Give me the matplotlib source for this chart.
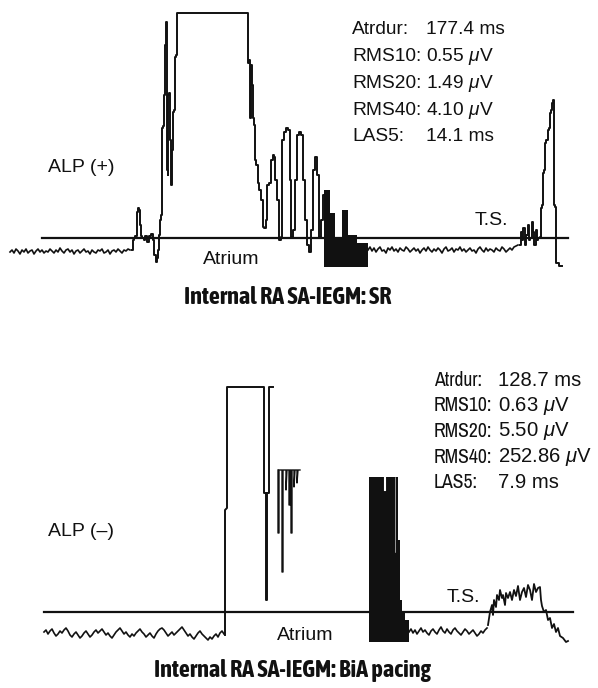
import numpy as np
import matplotlib
matplotlib.use("Agg")
import matplotlib.pyplot as plt
import matplotlib.font_manager as fm

# ---- data (amplitude relative to threshold line, time in sample units) ----
# panel 1 : SR
noise1_start = 10
noise1 = [-14, -12, -15, -11, -13, -16, -12, -14, -11, -15, -13, -12, -16, -13, -11,
          -14, -12, -15, -13, -14, -11, -13, -15, -12, -14, -10, -13, -15, -12, -11,
          -14, -12, -16, -13, -12, -15, -13, -11, -14, -13, -16, -12, -14, -15, -12,
          -13, -11, -15, -14, -12, -16, -13, -12, -14, -11, -13, -15, -12, -13, -11, -12]
wave1_t = [132, 133, 134, 136, 137, 138, 139, 140, 141, 143, 144, 146, 148, 150, 152,
           153, 155, 156, 157, 158, 159, 160, 161, 162, 163, 164, 165, 166, 167, 167.5,
           168, 168.5, 169, 170, 171, 172, 173, 174, 175, 176, 177, 248, 248, 249, 250,
           251, 252, 253, 254, 255, 257, 258, 260, 262, 263, 265, 266, 268, 270, 272,
           273, 274, 276, 278, 280, 281, 283, 285, 287, 289, 290, 292, 294, 296, 298,
           300, 302, 304, 306, 308, 310, 312, 314, 316, 318, 320, 322, 324]
wave1_a = [-12, -2, 0, 2, 26, 30, 28, 13, 2, 0, -2, 2, -4, 2, 4,
           -2, -17, -24, -20, -12, 3, 18, 23, 110, 112, 143, 193, 216, 198, 68,
           63, 143, 145, 98, 53, 88, 126, 128, 181, 183, 225, 225, 175, 178, 120,
           173, 153, 120, 113, 78, 73, 55, 48, 38, 11, 10, 18, 53, 55, 78,
           83, 81, 58, 38, -2, 1, 98, 106, 110, 108, 58, 1, 8, 58, 103,
           106, 103, 58, 18, -7, -14, 8, 68, 81, 63, 1, 18, 43]
las1_t = [324, 330, 335, 342, 348, 357, 368]
las1_top = [48, 25, 0, 28, 3, -5, -5]
las1_bottom = -29
noise2_start = 368
noise2 = [-12, -9, -13, -10, -14, -11, -9, -13, -12, -15, -10, -12, -9, -13, -11,
          -14, -10, -12, -13, -9, -11, -14, -12, -10, -13, -11, -15, -12, -10, -13,
          -9, -12, -14, -11, -13, -10, -12, -15, -11, -9, -13, -12, -10, -14, -11,
          -12, -9, -13, -11, -14, -12, -10, -13, -12, -15, -11, -9, -12, -14, -10,
          -13, -11, -12, -14, -10, -12, -13, -9, -11, -14, -12, -10, -12, -9, -8, -7]
end1_t = [520, 521, 522, 524, 525, 527, 528, 529, 531, 532, 533, 535, 536, 537, 539,
          540, 541, 543, 543.5, 545, 545.5, 547, 548, 549, 550, 551, 552, 553, 554,
          554.5, 556, 556.5, 558, 559, 562]
end1_a = [-7, 6, -2, 10, -7, 3, 13, -2, 0, 16, 6, -7, 8, -2, 0,
          1, 30, 33, 65, 68, 95, 98, 108, 110, 125, 128, 135, 138, 118,
          33, 31, -25, -25, -28, -28]

# panel 2 : BiA pacing
noise3_start = 44
noise3 = [-20, -18, -22, -19, -17, -21, -24, -22, -19, -21, -18, -16, -19, -23, -25,
          -22, -20, -23, -26, -24, -21, -19, -22, -25, -23, -20, -18, -21, -19, -17,
          -20, -23, -21, -24, -26, -23, -20, -18, -16, -19, -22, -20, -23, -25, -22,
          -24, -21, -19, -17, -20, -22, -25, -23, -21, -24, -26, -22, -19, -17, -16,
          -18, -21, -24, -22, -20, -23, -21, -19, -17, -15, -18, -21, -24, -22, -25,
          -27, -24, -21, -19, -22, -24, -26, -28, -25, -27, -24, -22, -25, -21, -19, -22]
pulse_t = [225, 225, 227, 227, 264, 264, 266, 266, 267, 267, 269, 269, 273]
pulse_a = [-23, 102, 104, 225, 225, 119, 119, 12, 12, 119, 119, 225, 225]
grp_t = [278, 278, 279, 279, 282, 282, 283, 283, 286, 286, 287, 289, 289, 290, 290,
         291, 291, 292, 292, 294, 294, 295, 297, 297, 298, 300]
grp_a = [142, 79, 79, 142, 142, 40, 40, 142, 142, 122, 142, 142, 107, 107, 142,
         142, 79, 79, 142, 142, 125, 142, 142, 129, 142, 142]
las2_t = [369, 396, 398, 400, 402, 405, 409]
las2_top = [135, 135, 72, 12, 0, -8, -18]
las2_bottom = -30
noise4_start = 409
noise4 = [-20, -17, -21, -18, -22, -19, -16, -20, -18, -21, -23, -19, -17, -20, -22,
          -18, -15, -19, -21, -17, -20, -22, -18, -16, -19, -21, -23, -20, -17, -19,
          -22, -20, -18, -21, -24, -22, -19, -21, -18, -16]
twave_t = [488, 490, 492, 493, 494, 496, 497, 499, 500, 502, 503, 505, 506, 508, 510,
           512, 514, 516, 518, 520, 522, 524, 526, 528, 530, 532, 534, 536, 538, 540,
           541, 542, 544, 546, 548, 550, 552, 554, 556, 558, 560, 563, 566, 568]
twave_a = [-13, 0, 7, -3, 12, 5, 17, 12, 22, 14, 17, 7, 19, 14, 20,
           12, 22, 16, 26, 12, 20, 24, 15, 27, 22, 12, 28, 20, 24, 25,
           12, 6, 0, 2, -8, -6, -16, -12, -20, -16, -24, -26, -30, -29]

stat_labels = ["Atrdur:", "RMS10:", "RMS20:", "RMS40:", "LAS5:"]
stats_sr = ["177.4 ms", r"0.55 $\mu$V", r"1.49 $\mu$V", r"4.10 $\mu$V", "14.1 ms"]
stats_bia = ["128.7 ms", r"0.63 $\mu$V", r"5.50 $\mu$V", r"252.86 $\mu$V", "7.9 ms"]

# ---- fonts ----
names = {f.name for f in fm.fontManager.ttflist}
reg = "Liberation Sans" if "Liberation Sans" in names else "DejaVu Sans"
narrow = "Archivo Narrow" if "Archivo Narrow" in names else reg
bold_c = "Asap Condensed" if "Asap Condensed" in names else reg
ttl_size = 17.5 if bold_c != reg else 13
plt.rcParams["mathtext.fontset"] = "custom"
plt.rcParams["mathtext.it"] = reg + ":italic"
plt.rcParams["mathtext.rm"] = reg

W, H = 598, 688
fig = plt.figure(figsize=(W / 100, H / 100), dpi=100)

ink = "#111111"
lw_sig = 1.4


def noise_t(start, vals):
    return np.arange(len(vals)) * 2 + start


def panel(ax, ytop, ybot, base, line_x):
    ax.set_xlim(0, W)
    ax.set_ylim(base - ybot, base - ytop)
    ax.axis("off")
    ax.plot(line_x, [0, 0], color=ink, lw=1.6)


# ---------------- panel 1 ----------------
ax1 = fig.add_axes([0, 1 - 320 / H, 1, 320 / H])
panel(ax1, 0, 320, 238, [42, 568])
ax1.plot(noise_t(noise1_start, noise1), noise1, color=ink, lw=1.2)
ax1.plot(wave1_t, wave1_a, color=ink, lw=lw_sig, drawstyle="steps-mid")
ax1.fill_between(las1_t, las1_top, las1_bottom, step="post", color=ink, lw=0)
ax1.plot(noise_t(noise2_start, noise2), noise2, color=ink, lw=1.2)
ax1.plot(end1_t, end1_a, color=ink, lw=lw_sig, drawstyle="steps-mid")

ax1.text(48, 71, "ALP (+)", fontsize=14, family=reg, va="center", color=ink)
ax1.text(203, -22, "Atrium", fontsize=14, family=reg, va="center", color=ink)
ax1.text(475, 17, "T.S.", fontsize=14, family=reg, va="center", color=ink)
for i, (lab, val) in enumerate(zip(stat_labels, stats_sr)):
    yy = 208 - i * 26.7
    ax1.text(352, yy, lab, fontsize=13.8, family=reg, va="center", color=ink)
    ax1.text(426, yy, val, fontsize=13.8, family=reg, va="center", color=ink)
ax1.text(288, -60, "Internal RA SA-IEGM: SR", fontsize=ttl_size, family=bold_c,
         weight="bold", ha="center", va="center", color=ink)

# ---------------- panel 2 ----------------
ax2 = fig.add_axes([0, 0, 1, 368 / H])
panel(ax2, 320, 688, 612, [44, 573])
ax2.plot(noise_t(noise3_start, noise3), noise3, color=ink, lw=1.2)
ax2.plot(pulse_t, pulse_a, color=ink, lw=lw_sig)
ax2.plot(grp_t, grp_a, color=ink, lw=1.0)
ax2.fill_between(las2_t, las2_top, las2_bottom, step="post", color=ink, lw=0)
ax2.plot([384.5, 384.5], [135, 122], color="white", lw=1.5)
ax2.plot([395, 395], [135, 60], color="white", lw=0.4)
ax2.plot(noise_t(noise4_start, noise4), noise4, color=ink, lw=1.2)
ax2.plot(twave_t, twave_a, color=ink, lw=1.3)

ax2.text(48, 80, "ALP (\u2013)", fontsize=14, family=reg, va="center", color=ink)
ax2.text(277, -24, "Atrium", fontsize=14, family=reg, va="center", color=ink)
ax2.text(447, 15, "T.S.", fontsize=14, family=reg, va="center", color=ink)
for i, (lab, val) in enumerate(zip(stat_labels, stats_bia)):
    yy = 232 - i * 25.7
    ax2.text(434, yy, lab, fontsize=14.2, family=narrow, va="center", color=ink)
    ax2.text(498, yy, val, fontsize=14.6, family=reg, va="center", color=ink)
ax2.text(292, -58, "Internal RA SA-IEGM: BiA pacing", fontsize=ttl_size,
         family=bold_c, weight="bold", ha="center", va="center", color=ink)

fig.savefig("out.png", dpi=100, facecolor="white")
